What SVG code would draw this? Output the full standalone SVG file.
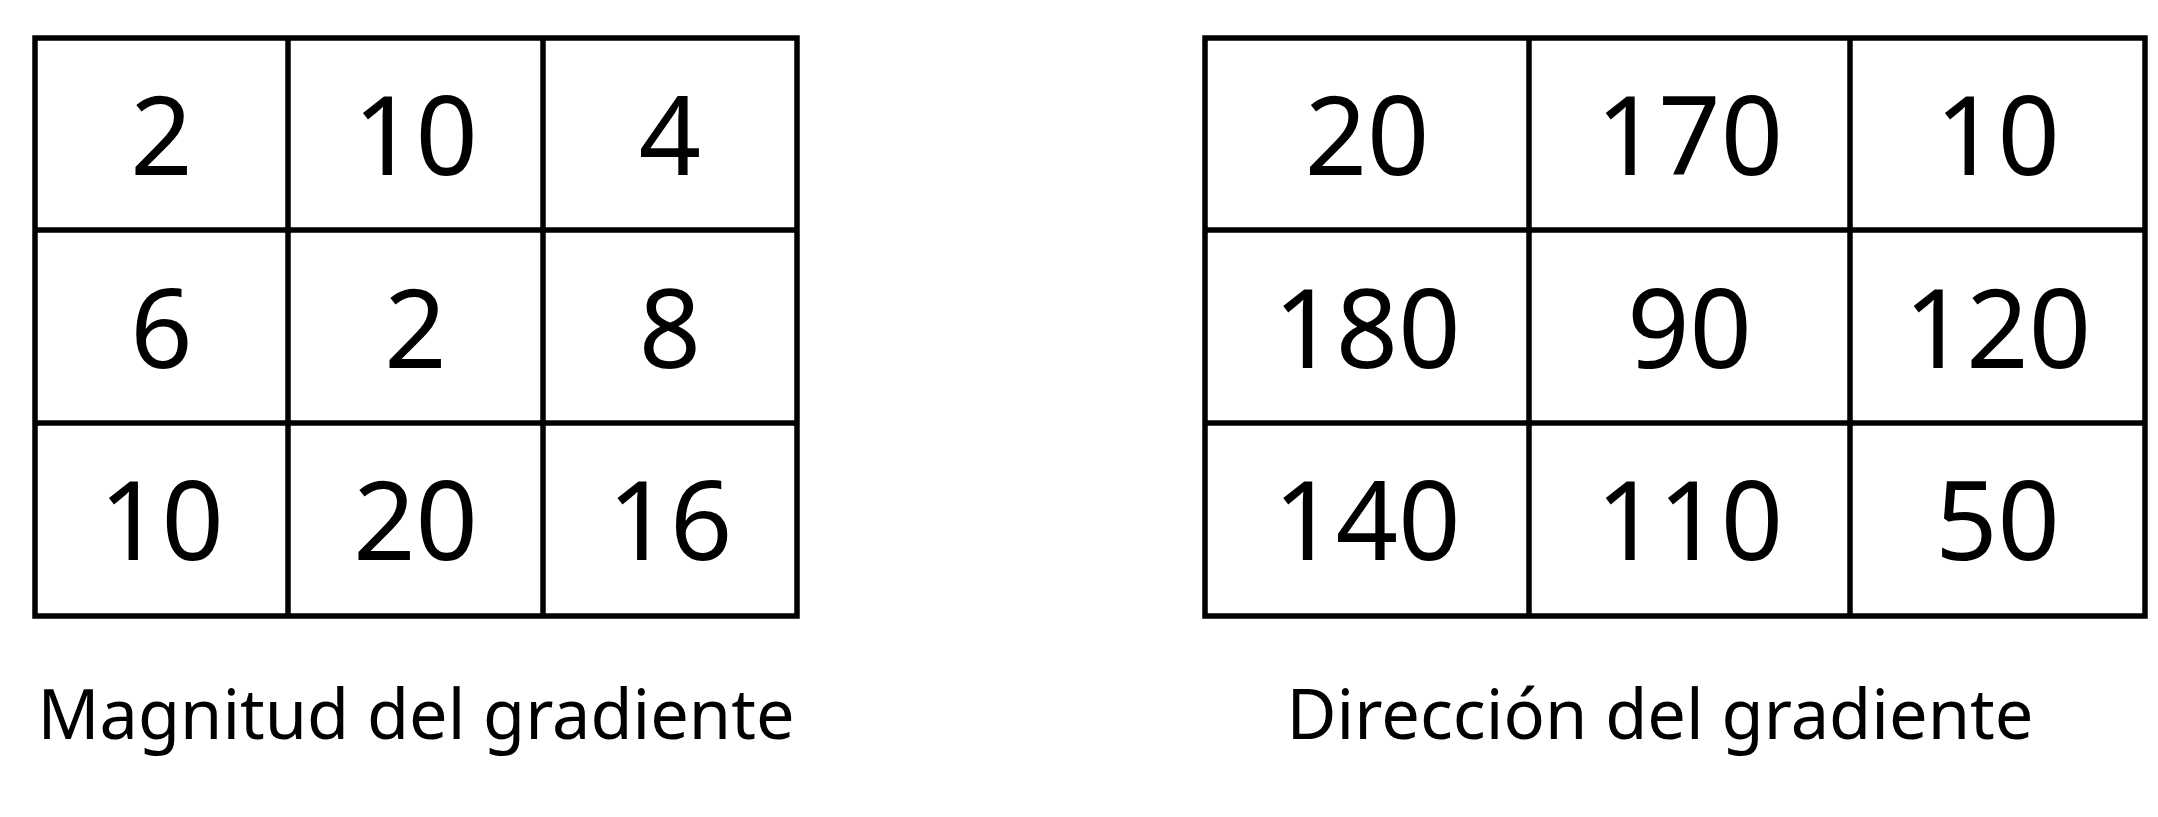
<svg xmlns="http://www.w3.org/2000/svg" width="2158" height="817" viewBox="0 0 2158 817">
<style>
.grid{fill:none;stroke:#000;stroke-width:5.5;stroke-linecap:square}
.num{font-family:"Noto Sans","Open Sans",sans-serif;font-size:109px;fill:#000;text-anchor:middle}
.cap{font-family:"Noto Sans","Open Sans",sans-serif;font-size:70px;fill:#000;text-anchor:middle}
</style>
<rect width="2158" height="817" fill="#fff"/>
<g id="magnitud">
<path class="grid" d="M35 38H797V616H35Z M288 38V616 M543 38V616 M35 230H797 M35 423H797"/>
<text class="num" x="161.5" y="175">2</text>
<text class="num" x="415.5" y="175">10</text>
<text class="num" x="670" y="175">4</text>
<text class="num" x="161.5" y="368">6</text>
<text class="num" x="415.5" y="368">2</text>
<text class="num" x="670" y="368">8</text>
<text class="num" x="161.5" y="560">10</text>
<text class="num" x="415.5" y="560">20</text>
<text class="num" x="670" y="560">16</text>
<text class="cap" x="416" y="739" textLength="757" lengthAdjust="spacingAndGlyphs">Magnitud del gradiente</text>
</g>
<g id="direccion">
<path class="grid" d="M1205 38H2145V616H1205Z M1529 38V616 M1850 38V616 M1205 230H2145 M1205 423H2145"/>
<text class="num" x="1367" y="175">20</text>
<text class="num" x="1689.5" y="175">170</text>
<text class="num" x="1997.5" y="175">10</text>
<text class="num" x="1367" y="368">180</text>
<text class="num" x="1689.5" y="368">90</text>
<text class="num" x="1997.5" y="368">120</text>
<text class="num" x="1367" y="560">140</text>
<text class="num" x="1689.5" y="560">110</text>
<text class="num" x="1997.5" y="560">50</text>
<text class="cap" x="1660" y="739" textLength="747" lengthAdjust="spacingAndGlyphs">Dirección del gradiente</text>
</g>
<g id="connectors"/>
</svg>
